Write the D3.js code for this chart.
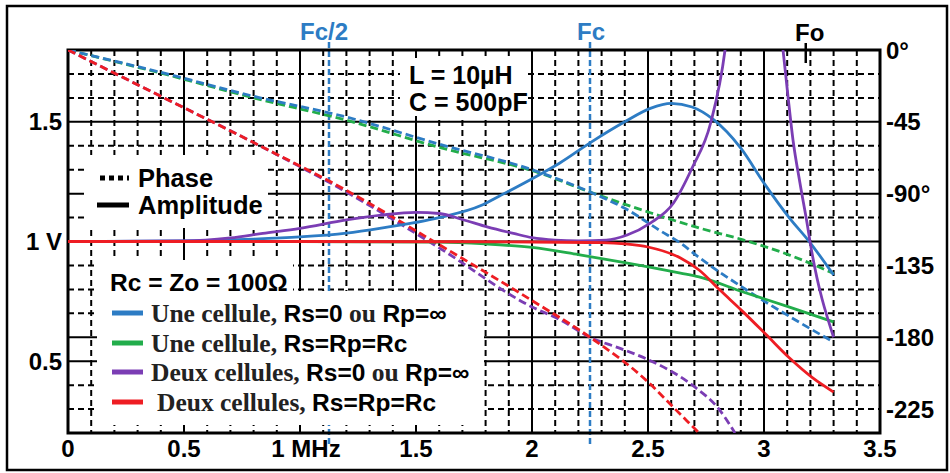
<!DOCTYPE html>
<html>
<head>
<meta charset="utf-8">
<script src="https://cdn.jsdelivr.net/npm/d3@7"></script>
<style>
body { margin: 0; background: #fff; }
text { font-family: "Liberation Sans", Arial, sans-serif; font-weight: bold; }
</style>
</head>
<body>
<script>
//Width and height
var w = 950;
var h = 473;

//Plot area
var plotLeft = 68, plotRight = 880, plotTop = 50, plotBottom = 433;

//Axes
var freqTicks = [0, 0.5, 1, 1.5, 2, 2.5, 3, 3.5];
var freqLabels = ["0", "0.5", "1 MHz", "1.5", "2", "2.5", "3", "3.5"];
var voltTicks = [1.5, 1, 0.5];
var voltLabels = ["1.5", "1 V", "0.5"];
var phaseTicks = [0, -45, -90, -135, -180, -225];
var phaseLabels = ["0°", "-45", "-90°", "-135", "-180", "-225"];
var solidPhase = [-90, -180];

//Marked frequencies (MHz)
var markNames = ["Fc/2", "Fc"];
var markFreqs = [1.125, 2.25];
var foFreq = 3.18;

//Amplitude (V) vs frequency (MHz)
var ampOneRs0 = [[0,1],[0.5,1.003],[0.8,1.01],[1.0,1.019],[1.2,1.035],[1.35,1.056],[1.6,1.1],[1.78,1.15],[1.86,1.19],
  [2.03,1.278],[2.12,1.328],[2.25,1.412],[2.4,1.5],[2.51,1.556],[2.6,1.577],[2.69,1.562],[2.78,1.511],[2.9,1.39],
  [3.0,1.244],[3.11,1.098],[3.19,1.006],[3.3,0.86]];
var ampOneRc = [[0,1],[1.0,1.0],[1.6,0.998],[1.8,0.99],[2.0,0.975],[2.2,0.945],[2.4,0.912],[2.64,0.868],[2.72,0.852],
  [2.91,0.789],[3.11,0.726],[3.3,0.664]];
var ampTwoRs0 = [[0,1],[0.5,1.002],[0.7,1.015],[0.84,1.034],[1.0,1.055],[1.2,1.09],[1.35,1.11],[1.5,1.122],[1.6,1.117],
  [1.7,1.092],[1.81,1.06],[1.92,1.034],[2.0,1.016],[2.1,1.006],[2.2,1.003],[2.32,1.006],[2.41,1.027],[2.51,1.077],
  [2.61,1.161],[2.69,1.307],[2.77,1.495],[2.832,1.8],[2.85,1.95],[2.95,null],[3.07,1.9],[3.082,1.8],[3.103,1.61],
  [3.125,1.424],[3.155,1.244],[3.185,1.08],[3.2,0.99],[3.3,0.6]];
var ampTwoRc = [[0,1],[1.0,1.0],[2.0,0.998],[2.3,0.995],[2.4,0.99],[2.5,0.977],[2.64,0.931],[2.72,0.881],[2.81,0.797],
  [2.91,0.706],[3.01,0.61],[3.11,0.513],[3.21,0.43],[3.3,0.371]];

//Phase (degrees) vs frequency (MHz)
var phaseOneRs0 = [[0,0],[0.4,-14],[0.8,-29],[1.2,-42],[1.6,-59],[2.0,-75],[2.25,-89],[2.41,-100],[2.55,-113],
  [2.64,-121],[2.72,-130],[2.91,-149],[3.11,-167],[3.3,-183]];
var phaseOneRc = [[0,0],[0.4,-14.5],[0.8,-30],[1.2,-44],[1.6,-61],[2.03,-77],[2.25,-89],[2.51,-102],[2.72,-111.5],
  [2.91,-119],[3.11,-128.5],[3.3,-140]];
var phaseTwoRs0 = [[0,0],[0.4,-29],[0.8,-58],[1.2,-89],[1.6,-124],[2.0,-161],[2.12,-169],[2.25,-180],[2.38,-187],
  [2.5,-194],[2.7,-211],[2.8,-224],[2.875,-240]];
var phaseTwoRc = [[0,0],[0.4,-29],[0.8,-58],[1.2,-88],[1.6,-122],[2.0,-157],[2.25,-180],[2.5,-208],[2.61,-224],[2.72,-240]];

var colors = ["#2d7cc4", "#22ad4b", "#7b3db4", "#ee1d23"];

//Create scale functions
var xScale = d3.scaleLinear().domain([0, 3.5]).range([plotLeft, plotRight]);
var yVolt = d3.scaleLinear().domain([0.2, 1.8]).range([plotBottom, plotTop]);
var yPhase = d3.scaleLinear().domain([-240, 0]).range([plotBottom, plotTop]);

//Create SVG element
var svg = d3.select("body")
  .append("svg")
  .attr("width", w)
  .attr("height", h);

svg.append("rect")
  .attr("x", 7).attr("y", 6).attr("width", 940).attr("height", 464)
  .attr("fill", "#fff").attr("stroke", "#000").attr("stroke-width", 2.5);

svg.append("clipPath").attr("id", "clip")
  .append("rect")
  .attr("x", plotLeft).attr("y", plotTop)
  .attr("width", plotRight - plotLeft).attr("height", plotBottom - plotTop);

//Grid
var vLines = d3.range(1, 35).map(function(i) { return i / 10; });
svg.selectAll("line.vgrid")
  .data(vLines)
  .enter()
  .append("line")
  .attr("class", "vgrid")
  .attr("x1", function(d) { return xScale(d); })
  .attr("x2", function(d) { return xScale(d); })
  .attr("y1", plotTop).attr("y2", plotBottom)
  .attr("stroke", "#000").attr("stroke-width", 2)
  .attr("stroke-dasharray", function(d, i) { return (i + 1) % 5 === 0 ? null : "6,4"; });

var hLines = d3.range(1, 16).map(function(k) { return -15 * k; });
var solidY = voltTicks.map(function(v) { return yVolt(v); });
svg.selectAll("line.hgrid")
  .data(hLines)
  .enter()
  .append("line")
  .attr("class", "hgrid")
  .attr("x1", plotLeft).attr("x2", plotRight)
  .attr("y1", function(d) { return yPhase(d); })
  .attr("y2", function(d) { return yPhase(d); })
  .attr("stroke", "#000").attr("stroke-width", 2)
  .attr("stroke-dasharray", function(d) {
    var y = yPhase(d);
    var solid = solidPhase.indexOf(d) >= 0 || solidY.some(function(s) { return Math.abs(s - y) < 1; });
    return solid ? null : "6,4";
  });

//Fc/2 and Fc markers
svg.selectAll("line.mark")
  .data(markFreqs)
  .enter()
  .append("line")
  .attr("class", "mark")
  .attr("x1", function(d) { return xScale(d); })
  .attr("x2", function(d) { return xScale(d); })
  .attr("y1", 42).attr("y2", 445)
  .attr("stroke", "#2d7cc4").attr("stroke-width", 2.5)
  .attr("stroke-dasharray", "6,3");

svg.selectAll("text.mark")
  .data(markFreqs)
  .enter()
  .append("text")
  .attr("class", "mark")
  .attr("x", function(d) { return xScale(d); })
  .attr("dx", function(d, i) { return i === 0 ? -5 : 1; })
  .attr("y", 40)
  .attr("text-anchor", "middle")
  .attr("font-size", 24)
  .attr("fill", "#2d7cc4")
  .text(function(d, i) { return markNames[i]; });

//White boxes behind the text
var boxes = [[84, 155, 184, 73], [400, 58, 128, 58], [97, 260, 196, 34], [97, 291, 387, 134]];
svg.selectAll("rect.box")
  .data(boxes)
  .enter()
  .append("rect")
  .attr("class", "box")
  .attr("x", function(d) { return d[0]; })
  .attr("y", function(d) { return d[1]; })
  .attr("width", function(d) { return d[2]; })
  .attr("height", function(d) { return d[3]; })
  .attr("fill", "#fff");

//Plot frame
svg.append("rect")
  .attr("x", plotLeft).attr("y", plotTop)
  .attr("width", plotRight - plotLeft).attr("height", plotBottom - plotTop)
  .attr("fill", "none").attr("stroke", "#000").attr("stroke-width", 3);

//Curves
var ampLine = d3.line()
  .defined(function(d) { return d[1] !== null; })
  .x(function(d) { return xScale(d[0]); })
  .y(function(d) { return yVolt(d[1]); })
  .curve(d3.curveMonotoneX);

var phaseLine = d3.line()
  .x(function(d) { return xScale(d[0]); })
  .y(function(d) { return yPhase(d[1]); })
  .curve(d3.curveMonotoneX);

var curves = svg.append("g").attr("clip-path", "url(#clip)");

[phaseOneRc, phaseOneRs0, phaseTwoRs0, phaseTwoRc].forEach(function(s, i) {
  curves.append("path")
    .attr("d", phaseLine(s))
    .attr("fill", "none")
    .attr("stroke", colors[[1, 0, 2, 3][i]])
    .attr("stroke-width", 2.8)
    .attr("stroke-dasharray", "8,4");
});

[ampOneRs0, ampOneRc, ampTwoRs0, ampTwoRc].forEach(function(s, i) {
  curves.append("path")
    .attr("d", ampLine(s))
    .attr("fill", "none")
    .attr("stroke", colors[i])
    .attr("stroke-width", 2.8);
});

//Fo tick
svg.append("line")
  .attr("x1", xScale(foFreq)).attr("x2", xScale(foFreq))
  .attr("y1", 43).attr("y2", 63)
  .attr("stroke", "#000").attr("stroke-width", 2.5);
svg.append("text")
  .attr("x", xScale(foFreq) + 4).attr("y", 41)
  .attr("text-anchor", "middle")
  .attr("font-size", 24)
  .text("Fo");

//Axis labels
svg.selectAll("text.xlab")
  .data(freqTicks)
  .enter()
  .append("text")
  .attr("class", "xlab")
  .attr("x", function(d) { return xScale(d); })
  .attr("dx", function(d) { return d === 1 ? 6 : 0; })
  .attr("y", 457)
  .attr("text-anchor", "middle")
  .attr("font-size", 24)
  .text(function(d, i) { return freqLabels[i]; });

svg.selectAll("text.ylab")
  .data(voltTicks)
  .enter()
  .append("text")
  .attr("class", "ylab")
  .attr("x", 62)
  .attr("y", function(d) { return yVolt(d); })
  .attr("dy", "0.36em")
  .attr("text-anchor", "end")
  .attr("font-size", 24)
  .text(function(d, i) { return voltLabels[i]; });

svg.selectAll("text.plab")
  .data(phaseTicks)
  .enter()
  .append("text")
  .attr("class", "plab")
  .attr("x", 886)
  .attr("y", function(d) { return yPhase(d); })
  .attr("dy", "0.36em")
  .attr("font-size", 24)
  .text(function(d, i) { return phaseLabels[i]; });

//Phase / Amplitude key
svg.append("line")
  .attr("x1", 100).attr("x2", 129).attr("y1", 178).attr("y2", 178)
  .attr("stroke", "#000").attr("stroke-width", 5).attr("stroke-dasharray", "5,4");
svg.append("line")
  .attr("x1", 97).attr("x2", 129).attr("y1", 205).attr("y2", 205)
  .attr("stroke", "#000").attr("stroke-width", 5);
svg.append("text").attr("x", 138).attr("y", 178).attr("dy", "0.36em").attr("font-size", 25.5).text("Phase");
svg.append("text").attr("x", 138).attr("y", 205).attr("dy", "0.36em").attr("font-size", 25.5).text("Amplitude");

//Component values
svg.append("text").attr("x", 409).attr("y", 75).attr("dy", "0.36em").attr("font-size", 25).text("L = 10µH");
svg.append("text").attr("x", 409).attr("y", 102).attr("dy", "0.36em").attr("font-size", 25).text("C = 500pF");

//Series legend
svg.append("text").attr("x", 110).attr("y", 282).attr("dy", "0.36em").attr("font-size", 24.5).text("Rc = Zo = 100Ω");

var legendParts = [
  [["Une cellule, ", 1], ["Rs=0", 0], [" ou ", 1], ["Rp=∞", 0]],
  [["Une cellule, ", 1], ["Rs=Rp=Rc", 0]],
  [["Deux cellules, ", 1], ["Rs=0", 0], [" ou ", 1], ["Rp=∞", 0]],
  [["Deux cellules, ", 1], ["Rs=Rp=Rc", 0]]
];
var legendY = [313, 343, 372, 402];

legendParts.forEach(function(parts, i) {
  svg.append("line")
    .attr("x1", 112).attr("x2", 143)
    .attr("y1", legendY[i]).attr("y2", legendY[i])
    .attr("stroke", colors[i]).attr("stroke-width", 5);
  var t = svg.append("text")
    .attr("x", i === 3 ? 157 : 151)
    .attr("y", legendY[i])
    .attr("dy", "0.36em")
    .attr("font-size", 24.5);
  parts.forEach(function(p) {
    t.append("tspan")
      .attr("font-family", p[1] ? "'Liberation Serif', 'Times New Roman', serif" : "'Liberation Sans', Arial, sans-serif")
      .attr("font-size", p[1] ? 25.5 : 24.5)
      .attr("fill", p[1] ? "#222" : "#000")
      .text(p[0]);
  });
});
</script>
</body>
</html>
